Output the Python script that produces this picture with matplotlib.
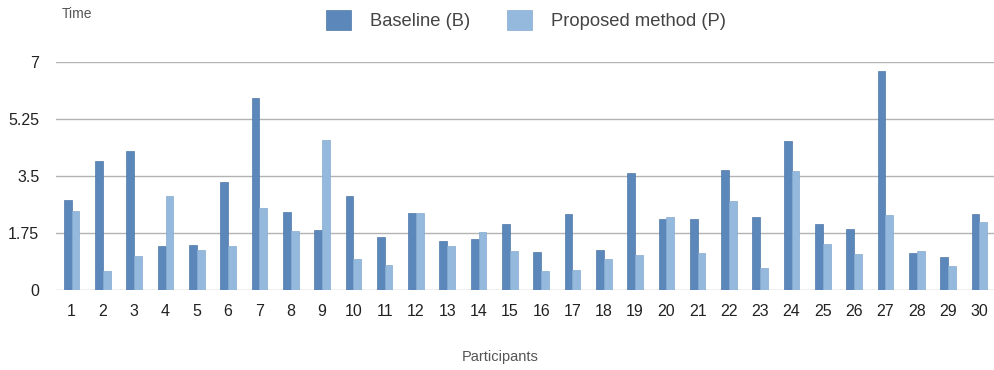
import numpy as np
import matplotlib
matplotlib.use('Agg')
import matplotlib.pyplot as plt

plt.rcParams['font.family'] = ['Liberation Sans', 'DejaVu Sans']

participants = list(range(1, 31))
baseline = [2.76, 3.96, 4.26, 1.35, 1.37, 3.31, 5.89, 2.39, 1.85, 2.89,
            1.64, 2.35, 1.51, 1.58, 2.03, 1.18, 2.33, 1.24, 3.60, 2.18,
            2.18, 3.68, 2.25, 4.57, 2.03, 1.88, 6.73, 1.13, 1.00, 2.33]
proposed = [2.42, 0.57, 1.05, 2.89, 1.24, 1.35, 2.53, 1.81, 4.61, 0.94,
            0.78, 2.37, 1.35, 1.78, 1.19, 0.59, 0.62, 0.96, 1.06, 2.23,
            1.13, 2.73, 0.69, 3.66, 1.42, 1.11, 2.31, 1.19, 0.73, 2.08]
yticks = [0, 1.75, 3.5, 5.25, 7]
ytick_labels = ['0', '1.75', '3.5', '5.25', '7']

c_base = '#5b87ba'
c_prop = '#94b9dc'

fig = plt.figure(figsize=(9.95, 3.7), dpi=100)
ax = fig.add_axes([56 / 995, 80 / 370, 939 / 995, 228 / 370])

x = np.array(participants)
w = 0.25
b1 = ax.bar(x - w / 2, baseline, w, color=c_base, edgecolor='#4f79a8', linewidth=0.5, zorder=3)
b2 = ax.bar(x + w / 2, proposed, w, color=c_prop, edgecolor='#86abd0', linewidth=0.5, zorder=3)

ax.set_xlim(0.5, 30.5)
ax.set_ylim(0, 7)
ax.set_yticks(yticks)
ax.set_yticklabels(ytick_labels)
ax.set_xticks(x)
ax.set_xticklabels([str(p) for p in participants])
ax.grid(axis='y', color='#b3b3b3', linewidth=1.0, zorder=0)
for s in ax.spines.values():
    s.set_visible(False)
ax.tick_params(axis='both', length=0, labelsize=11.5, colors='#222222')
ax.tick_params(axis='x', pad=10)
ax.tick_params(axis='y', pad=12)

fig.text(62 / 995, 1 - 14 / 370, 'Time', fontsize=10, color='#555555', va='center')
fig.text(0.503, 1 - 357 / 370, 'Participants', fontsize=10.5, color='#555555', ha='center', va='center')

fig.legend([b1, b2], ['Baseline (B)', 'Proposed method (P)'], loc='center',
           bbox_to_anchor=(0.529, 1 - 20 / 370), ncol=2, frameon=False,
           fontsize=13.2, handlelength=1.35, handleheight=1.35,
           columnspacing=2.0, handletextpad=1.05, labelcolor='#444444')

fig.savefig('out.png', dpi=100)
